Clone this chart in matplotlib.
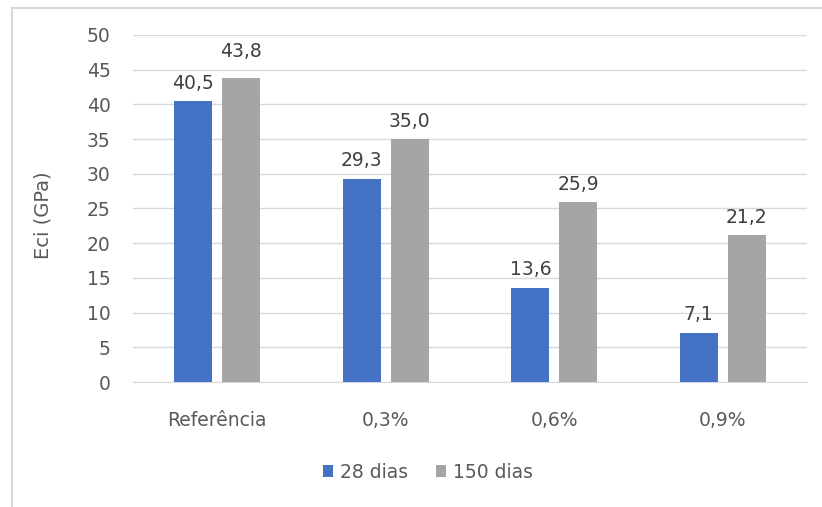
import numpy as np
import matplotlib.pyplot as plt
from matplotlib.lines import Line2D

categorias = ['Referência', '0,3%', '0,6%', '0,9%']
dias_28 = [40.5, 29.3, 13.6, 7.1]
dias_150 = [43.8, 35.0, 25.9, 21.2]
yticks = [0, 5, 10, 15, 20, 25, 30, 35, 40, 45, 50]

plt.rcParams['font.family'] = ['DejaVu Sans']
txt = '#595959'
fs = 13.5

fig = plt.figure(figsize=(8.22, 5.07), dpi=100)
ax = fig.add_axes([133 / 822, 1 - 382 / 507, (807 - 133) / 822, (382 - 35) / 507])

x = np.arange(len(categorias))
w = 0.225
off = 0.142
b1 = ax.bar(x - off, dias_28, w, color='#4472C4', label='28 dias', zorder=3)
b2 = ax.bar(x + off, dias_150, w, color='#A5A5A5', label='150 dias', zorder=3)

fmt = lambda v: f'{v:.1f}'.replace('.', ',')
ax.bar_label(b1, labels=[fmt(v) for v in dias_28], padding=6, fontsize=fs, color='#404040')
t2 = ax.bar_label(b2, labels=[fmt(v) for v in dias_150], padding=6, fontsize=fs, color='#404040')
# no Excel o rotulo 43,8 sobe para nao encostar no 40,5
t2[0].xyann = (0, 12)

ax.set_xlim(-0.5, 3.5)
ax.set_ylim(0, 50)
ax.set_yticks(yticks)
ax.set_xticks(x)
ax.set_xticklabels(categorias)
ax.tick_params(axis='both', length=0, labelsize=fs, labelcolor=txt)
ax.tick_params(axis='y', pad=16)
ax.tick_params(axis='x', pad=21)
ax.grid(axis='y', color='#D9D9D9', linewidth=1, zorder=0)
for s in ['top', 'right', 'left']:
    ax.spines[s].set_visible(False)
ax.spines['bottom'].set_color('#D9D9D9')
ax.set_ylabel('Eci (GPa)', fontsize=14, color=txt)
ax.yaxis.set_label_coords((52 - 133) / 674, (382 - 215) / 347)

fig.legend(handles=[b1, b2], loc='center', bbox_to_anchor=(428 / 822, 1 - 472 / 507),
           ncol=2, frameon=False, fontsize=fs, labelcolor=txt,
           handlelength=0.55, handleheight=0.55, handletextpad=0.35, columnspacing=1.5)

# borda do grafico (so esquerda e topo visiveis)
fig.add_artist(Line2D([12 / 822, 12 / 822], [0, 1 - 8 / 507], transform=fig.transFigure,
                      color='#D9D9D9', linewidth=1.5))
fig.add_artist(Line2D([12 / 822, 1], [1 - 8 / 507, 1 - 8 / 507], transform=fig.transFigure,
                      color='#D9D9D9', linewidth=1.5))

fig.savefig('out.png', dpi=100)
